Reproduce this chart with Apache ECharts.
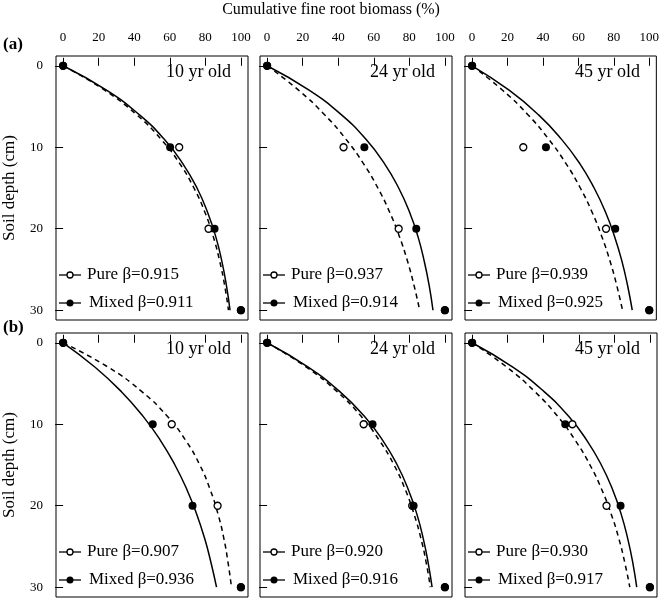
<!DOCTYPE html>
<html><head><meta charset="utf-8">
<script src="https://cdn.jsdelivr.net/npm/echarts@6/dist/echarts.min.js"></script>
<style>html,body{margin:0;padding:0;background:#fff}#c{width:662px;height:598px}</style>
</head><body><div id="c"></div>
<script>
// ---- data ----
const xTicks = [0, 20, 40, 60, 80, 100];
const yTicks = [0, 10, 20, 30];
const pointDepths = [0, 10, 20, 30];
const curveDepths = [0, 3, 6, 9, 12, 15, 18, 21, 24, 27, 30];
const panelTitles = ['10 yr old', '24 yr old', '45 yr old'];
const rowLabels = ['(a)', '(b)'];
const betaPureA = ['0.915', '0.937', '0.939'];
const betaMixedA = ['0.911', '0.914', '0.925'];
const betaPureB = ['0.907', '0.920', '0.930'];
const betaMixedB = ['0.936', '0.916', '0.917'];
// observed cumulative biomass (%) at pointDepths
const obsPureA10 = [0, 65.3, 81.8, 100];
const obsMixedA10 = [0, 60.2, 85.2, 100];
const obsPureA24 = [0, 43.0, 74.0, 100];
const obsMixedA24 = [0, 54.7, 83.9, 100];
const obsPureA45 = [0, 28.9, 75.6, 100];
const obsMixedA45 = [0, 41.7, 80.8, 100];
const obsPureB10 = [0, 61.1, 86.9, 100];
const obsMixedB10 = [0, 50.4, 72.8, 100];
const obsPureB24 = [0, 54.3, 81.6, 100];
const obsMixedB24 = [0, 59.3, 82.4, 100];
const obsPureB45 = [0, 56.4, 75.6, 100];
const obsMixedB45 = [0, 52.4, 83.5, 100];
// fitted curves (%) read at curveDepths
const fitPureA10 = [0, 23.4, 41.3, 55.0, 65.6, 73.6, 79.8, 84.5, 88.1, 90.9, 93.0];
const fitMixedA10 = [0, 24.4, 42.8, 56.8, 67.3, 75.3, 81.3, 85.9, 89.3, 91.9, 93.9];
const fitPureA24 = [0, 17.7, 32.3, 44.3, 54.2, 62.3, 69.0, 74.5, 79.0, 82.7, 85.8];
const fitMixedA24 = [0, 23.6, 41.7, 55.5, 66.0, 74.0, 80.2, 84.9, 88.4, 91.2, 93.3];
const fitPureA45 = [0, 17.2, 31.5, 43.2, 53.0, 61.1, 67.8, 73.3, 77.9, 81.7, 84.9];
const fitMixedA45 = [0, 20.9, 37.4, 50.4, 60.8, 68.9, 75.4, 80.5, 84.6, 87.8, 90.4];
const fitPureB10 = [0, 25.4, 44.3, 58.5, 69.0, 76.9, 82.7, 87.1, 90.4, 92.8, 94.7];
const fitMixedB10 = [0, 18.0, 32.8, 44.9, 54.8, 62.9, 69.6, 75.1, 79.6, 83.2, 86.3];
const fitPureB24 = [0, 22.1, 39.4, 52.8, 63.2, 71.4, 77.7, 82.6, 86.5, 89.5, 91.8];
const fitMixedB24 = [0, 23.1, 40.9, 54.6, 65.1, 73.2, 79.4, 84.2, 87.8, 90.6, 92.8];
const fitPureB45 = [0, 19.6, 35.3, 48.0, 58.1, 66.3, 72.9, 78.2, 82.5, 85.9, 88.7];
const fitMixedB45 = [0, 22.9, 40.5, 54.2, 64.6, 72.7, 79.0, 83.8, 87.5, 90.4, 92.6];

// ---- layout ----
const FONT = '"Liberation Serif", "Times New Roman", serif';
const colLeft = [56, 260, 465];
const rowTop = [56, 333];
const W = 192, H = 264;

const panels = [
  [[obsPureA10, obsMixedA10, fitPureA10, fitMixedA10, betaPureA[0], betaMixedA[0]],
   [obsPureA24, obsMixedA24, fitPureA24, fitMixedA24, betaPureA[1], betaMixedA[1]],
   [obsPureA45, obsMixedA45, fitPureA45, fitMixedA45, betaPureA[2], betaMixedA[2]]],
  [[obsPureB10, obsMixedB10, fitPureB10, fitMixedB10, betaPureB[0], betaMixedB[0]],
   [obsPureB24, obsMixedB24, fitPureB24, fitMixedB24, betaPureB[1], betaMixedB[1]],
   [obsPureB45, obsMixedB45, fitPureB45, fitMixedB45, betaPureB[2], betaMixedB[2]]]
];

const zip = (xs, ys) => xs.map((v, i) => [v, ys[i]]);
const grid = [], xAxis = [], yAxis = [], series = [], graphic = [];

graphic.push({type: 'text', left: 'center', top: 2, style: {text: 'Cumulative fine root biomass (%)', font: '16px ' + FONT, fill: '#000'}});

for (let r = 0; r < 2; r++) {
  graphic.push({type: 'text', x: 3, y: r === 0 ? 45 : 328, style: {text: rowLabels[r], font: 'bold 17px ' + FONT, fill: '#000', verticalAlign: 'middle', align: 'left'}});
  graphic.push({type: 'text', x: 10, y: rowTop[r] + H / 2, rotation: Math.PI / 2, style: {text: 'Soil depth (cm)', font: '17px ' + FONT, fill: '#000', align: 'center', verticalAlign: 'middle'}});
  for (let c = 0; c < 3; c++) {
    const idx = r * 3 + c;
    const [op, om, fp, fm, bp, bm] = panels[r][c];
    const L = colLeft[c], T = rowTop[r];
    grid.push({left: L, top: T, width: W, height: H, show: true, borderColor: '#000', borderWidth: 1, backgroundColor: 'transparent', containLabel: false});
    xAxis.push({
      type: 'value', gridIndex: idx, position: 'top', min: -4, max: 104,
      axisLine: {show: false},
      axisTick: {show: true, inside: false, length: 8, customValues: xTicks, lineStyle: {color: '#000', width: 1}},
      axisLabel: {show: r === 0, customValues: xTicks, margin: 12, color: '#000', fontFamily: FONT, fontSize: 13},
      splitLine: {show: false}
    });
    yAxis.push({
      type: 'value', gridIndex: idx, inverse: true, min: -1.2, max: 31.2,
      axisLine: {show: false},
      axisTick: {show: true, inside: false, length: 8, customValues: yTicks, lineStyle: {color: '#000', width: 1}},
      axisLabel: {show: c === 0, customValues: yTicks, margin: 13, color: '#000', fontFamily: FONT, fontSize: 13},
      splitLine: {show: false}
    });
    series.push({type: 'line', xAxisIndex: idx, yAxisIndex: idx, data: zip(fp, curveDepths), symbol: 'none', smooth: 0.5, lineStyle: {color: '#000', width: 1.5, type: [5, 4]}, z: 2, silent: true});
    series.push({type: 'line', xAxisIndex: idx, yAxisIndex: idx, data: zip(fm, curveDepths), symbol: 'none', smooth: 0.5, lineStyle: {color: '#000', width: 1.5, type: 'solid'}, z: 2, silent: true});
    series.push({type: 'scatter', xAxisIndex: idx, yAxisIndex: idx, data: zip(op, pointDepths), symbol: 'circle', symbolSize: 7, itemStyle: {color: '#fff', borderColor: '#000', borderWidth: 1.3, opacity: 1}, z: 3, silent: true});
    series.push({type: 'scatter', xAxisIndex: idx, yAxisIndex: idx, data: zip(om, pointDepths), symbol: 'circle', symbolSize: 8, itemStyle: {color: '#000', opacity: 1}, z: 4, silent: true});

    // panel title
    graphic.push({type: 'text', x: L + W - 17, y: T + 16, style: {text: panelTitles[c], font: '18px ' + FONT, fill: '#000', align: 'right', verticalAlign: 'middle'}});
    // legend
    const ly1 = T + 219, ly2 = T + 247;
    graphic.push({type: 'line', shape: {x1: L + 3, y1: ly1, x2: L + 25, y2: ly1}, style: {stroke: '#000', lineWidth: 1.3}});
    graphic.push({type: 'circle', shape: {cx: L + 14, cy: ly1, r: 3}, style: {fill: '#fff', stroke: '#000', lineWidth: 1.3}});
    graphic.push({type: 'text', x: L + 31, y: ly1, style: {text: 'Pure \u03b2=' + bp, font: '17px ' + FONT, fill: '#000', verticalAlign: 'middle'}});
    graphic.push({type: 'line', shape: {x1: L + 3, y1: ly2, x2: L + 25, y2: ly2}, style: {stroke: '#000', lineWidth: 1.3}});
    graphic.push({type: 'circle', shape: {cx: L + 14, cy: ly2, r: 3.5}, style: {fill: '#000'}});
    graphic.push({type: 'text', x: L + 33, y: ly2, style: {text: 'Mixed \u03b2=' + bm, font: '17px ' + FONT, fill: '#000', verticalAlign: 'middle'}});
  }
}

const chart = echarts.init(document.getElementById('c'), null, {renderer: 'canvas'});
chart.setOption({animation: false, backgroundColor: '#fff', grid, xAxis, yAxis, series, graphic});
</script></body></html>
